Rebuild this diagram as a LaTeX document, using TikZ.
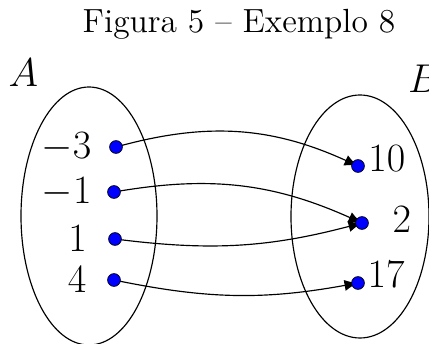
\documentclass[tikz,border=0pt]{standalone}
\usepackage{amsmath,amssymb}
\usepackage{xcolor}
\usetikzlibrary{positioning,arrows.meta,backgrounds}

\begin{document}
\begin{tikzpicture}[x=1.511cm, y=1.511cm, line width=0.5pt,
  dot/.style={circle, fill=blue, draw=black, line width=0.3pt, inner sep=1.95pt},
  elt/.style={font=\fontsize{16.5}{20}\selectfont, inner sep=0pt},
  setname/.style={font=\LARGE, inner sep=0pt},
  mapsto/.style={line width=0.5pt, -{Latex[length=5.8pt,width=4.8pt]}}]
\useasboundingbox (0,0) rectangle (4.29,3.44);

% Heading
\node[font=\Large, anchor=base] (title) at (2.39,3.11) {Figura 5 -- Exemplo 8};

% The two sets
\draw (0.89,1.28) ellipse (0.68 and 1.29);
\draw (3.60,1.275) ellipse (0.69 and 1.215);
\node[setname] (nameA) at (0.235,2.715) {$A$};
\node[setname] (nameB) at (4.24,2.655) {$B$};

% Elements of A
\foreach \name/\x/\y in {a1/1.16/1.97, a2/1.14/1.52, a3/1.15/1.05, a4/1.14/0.64} {
  \node[dot] (\name) at (\x,\y) {};
}
\node[elt, left=7.5pt of a1] (la1) {$-3$};
\node[elt, left=6.5pt of a2] (la2) {$-1$};
\node[elt, left=9pt of a3] (la3) {$1$};
\node[elt, left=8.7pt of a4] (la4) {$4$};

% Elements of B
\foreach \name/\x/\y in {b1/3.58/1.78, b2/3.62/1.21, b3/3.58/0.61} {
  \node[dot] (\name) at (\x,\y) {};
}
\node[elt, right=1.3pt of b1, yshift=3.4pt] (lb1) {$10$};
\node[elt, right=10pt of b2, yshift=1.3pt] (lb2) {$2$};
\node[elt, right=1pt of b3, yshift=3.8pt] (lb3) {$17$};

% The mapping, drawn below the dots
\begin{scope}[on background layer]
\draw[mapsto] (a1.center) to[bend left=20] (b1.center);
\draw[mapsto] (a2.center) to[bend left=17] (b2.center);
\draw[mapsto] (a3.center) to[bend right=11] (b2.center);
\draw[mapsto] (a4.center) to[bend right=11] (b3.center);
\end{scope}
\end{tikzpicture}
\end{document}
